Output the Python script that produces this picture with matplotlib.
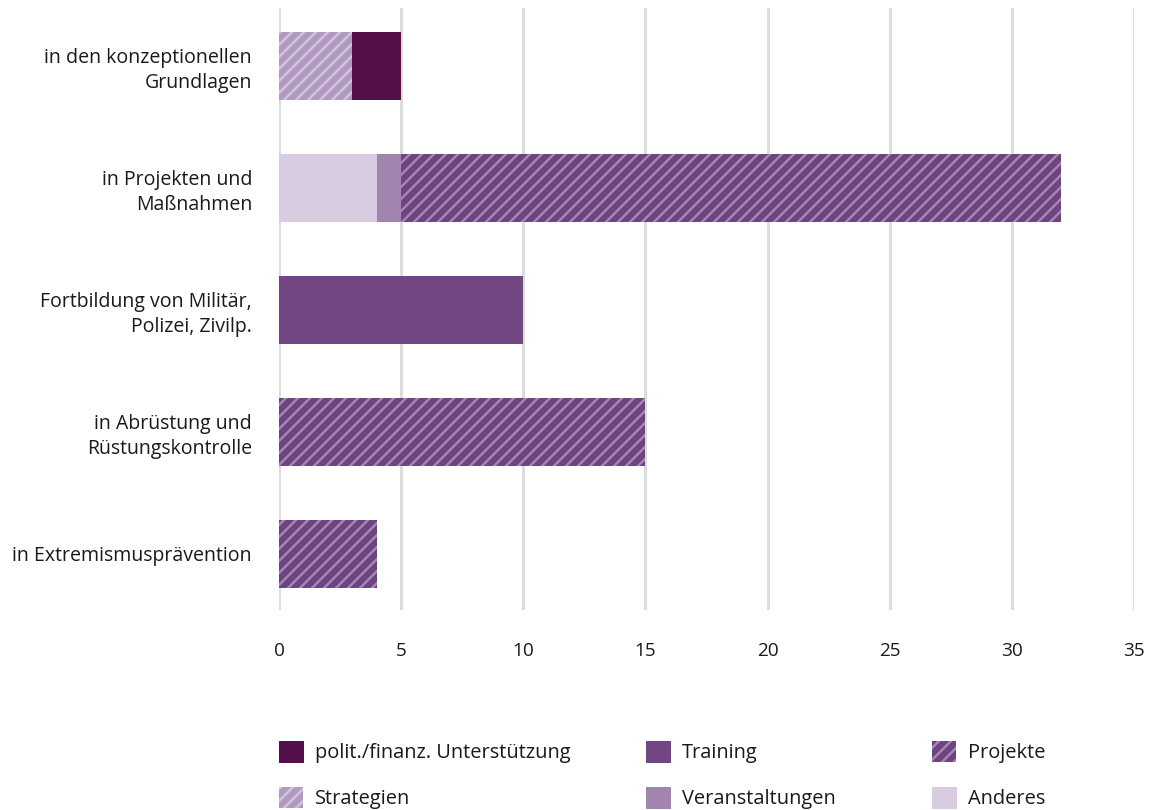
import matplotlib
matplotlib.use("Agg")
import matplotlib.pyplot as plt
from matplotlib.patches import Patch
import numpy as np

categories = ["in den konzeptionellen\nGrundlagen", "in Projekten und\nMaßnahmen",
              "Fortbildung von Militär,\nPolizei, Zivilp.", "in Abrüstung und\nRüstungskontrolle",
              "in Extremismusprävention"]
anderes = [0, 4, 0, 0, 0]
strategien = [3, 0, 0, 0, 0]
veranstaltungen = [0, 1, 0, 0, 0]
polit = [2, 0, 0, 0, 0]
training = [0, 0, 10, 0, 0]
projekte = [0, 27, 0, 15, 4]
xticks = [0, 5, 10, 15, 20, 25, 30, 35]

DPI = 72
plt.rcParams['font.family'] = ['Open Sans', 'DejaVu Sans']
plt.rcParams['hatch.linewidth'] = 2.4

fig = plt.figure(figsize=(1164 / DPI, 810 / DPI), dpi=DPI)
ax = fig.add_axes([279 / 1164, 1 - 610 / 810, (1134 - 279) / 1164, (610 - 8) / 810])

series = [
    ("Anderes", anderes, dict(color="#d9cce0")),
    ("Strategien", strategien, dict(facecolor="#b09ac0", edgecolor="#d2c4dc", hatch="//", linewidth=0)),
    ("Veranstaltungen", veranstaltungen, dict(color="#a285ae")),
    ("polit./finanz. Unterstützung", polit, dict(color="#55104b")),
    ("Training", training, dict(color="#724682")),
    ("Projekte", projekte, dict(facecolor="#6e4480", edgecolor="#a487b4", hatch="//", linewidth=0)),
]

y = np.arange(len(categories))
left = np.zeros(len(categories))
handles = {}
for name, vals, style in series:
    vals = np.array(vals, dtype=float)
    ax.barh(y, vals, left=left, height=0.56, zorder=3, **style)
    handles[name] = Patch(**style)
    left += vals

ax.set_xlim(0, 35)
ax.set_ylim(4.46, -0.475)
ax.set_yticks(y)
ax.set_yticklabels(categories, fontsize=19.5, color="#1a1a1a", linespacing=1.3)
ax.set_xticks(xticks)
ax.set_xticklabels([str(t) for t in xticks], fontsize=19, color="#1a1a1a")
ax.tick_params(axis='y', length=0, pad=27)
ax.tick_params(axis='x', length=0, pad=32)
ax.xaxis.grid(True, color="#dcdcdc", linewidth=3, zorder=0)
ax.set_axisbelow(True)
for s in ax.spines.values():
    s.set_visible(False)

cols = [
    (["polit./finanz. Unterstützung", "Strategien"], 279),
    (["Training", "Veranstaltungen"], 646),
    (["Projekte", "Anderes"], 932),
]
fs = 20
for names, xpx in cols:
    fig.legend([handles[n] for n in names], names, loc="upper left",
               bbox_to_anchor=(xpx / 1164, 1 - 741 / 810), frameon=False,
               fontsize=fs, handlelength=24 / fs, handleheight=24 / fs,
               handletextpad=0.6, labelspacing=1.22, borderpad=0, borderaxespad=0,
               labelcolor="#1a1a1a")

fig.savefig("out.png", dpi=DPI)
